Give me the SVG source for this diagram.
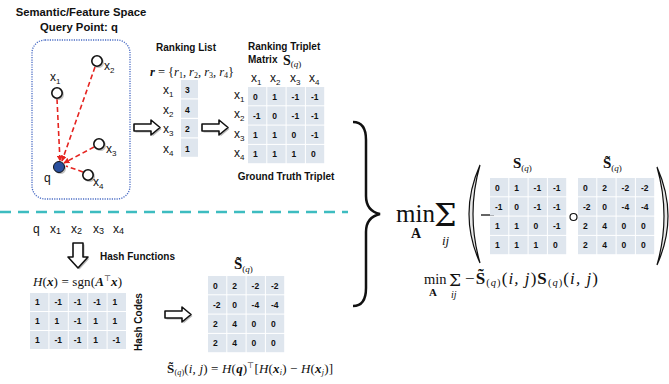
<svg xmlns="http://www.w3.org/2000/svg" width="669" height="384" viewBox="0 0 669 384">
<style>
.t{font-family:"Liberation Sans",Arial,sans-serif;font-weight:bold;fill:#111}
.lb{font-family:"Liberation Sans",Arial,sans-serif;font-size:12px;fill:#111}
.sb{font-size:8px}
.c{fill:#dfe6ee}
.v{font-family:"Liberation Sans",Arial,sans-serif;font-weight:bold;font-size:8.5px;fill:#111}
.m{font-family:"Liberation Serif","Times New Roman",serif;fill:#111}
.it{font-style:italic}
.bf{font-weight:bold}
.pt{fill:#fff;stroke:#111;stroke-width:1.6}
.sh{fill:#9a9a9a;opacity:.6}
.arr{fill:#fff;stroke:#111;stroke-width:1.6;stroke-linejoin:round}
.ash{fill:#888;opacity:.6}
.red{stroke:#e52420;stroke-width:1.6;stroke-dasharray:5 3;fill:none}
</style>
<defs>
<marker id="ah" viewBox="0 0 10 10" refX="9" refY="5" markerWidth="6" markerHeight="6" orient="auto" markerUnits="userSpaceOnUse">
<path d="M0,0 L10,5 L0,10 z" fill="#e52420"/>
</marker>
<polygon id="rarrow" points="0,-3.5 17,-3.5 17,-7.5 26,0 17,7.5 17,3.5 0,3.5"/>
<polygon id="darrow" points="-5,0 5,0 5,14 10,14 0,25 -10,14 -5,14"/>
</defs>

<g id="title">
<text class="t" x="81" y="16" text-anchor="middle" style="font-size:11.3px">Semantic/Feature Space</text>
<text class="t" x="79" y="31" text-anchor="middle" style="font-size:11.3px">Query Point: q</text>
</g>

<g id="space">
<rect x="32" y="40" width="98" height="159" rx="13" fill="none" stroke="#4a6cc4" stroke-width="1.3" stroke-dasharray="1.2 1.2"/>
</g>

<g id="connectors">
<line class="red" x1="57" y1="99" x2="60" y2="161" marker-end="url(#ah)"/>
<line class="red" x1="95" y1="67" x2="62" y2="161" marker-end="url(#ah)"/>
<line class="red" x1="94" y1="147" x2="64" y2="163" marker-end="url(#ah)"/>
<line class="red" x1="83" y1="172" x2="66" y2="166"/>
</g>

<g id="pt-x1"><circle class="sh" cx="58.5" cy="94.5" r="5.5"/><circle class="pt" cx="57" cy="93" r="5.2"/><text class="lb" x="50" y="81">x<tspan class="sb" dy="3">1</tspan></text></g>
<g id="pt-x2"><circle class="sh" cx="98.5" cy="62.5" r="5.5"/><circle class="pt" cx="97" cy="61" r="5.2"/><text class="lb" x="104" y="70">x<tspan class="sb" dy="3">2</tspan></text></g>
<g id="pt-x3"><circle class="sh" cx="100.5" cy="145.5" r="5.5"/><circle class="pt" cx="99" cy="144" r="5.2"/><text class="lb" x="106" y="153">x<tspan class="sb" dy="3">3</tspan></text></g>
<g id="pt-x4"><circle class="sh" cx="89.5" cy="176.5" r="5.5"/><circle class="pt" cx="88" cy="175" r="5.2"/><text class="lb" x="93" y="186">x<tspan class="sb" dy="3">4</tspan></text></g>
<g id="pt-q"><circle class="sh" cx="60.5" cy="168.5" r="5.5"/><circle cx="59" cy="167" r="5.5" fill="#2a4f9e" stroke="#111" stroke-width="1"/><text class="lb" x="44" y="182">q</text></g>

<g id="arrow1"><use href="#rarrow" class="ash" x="135.5" y="129"/><use href="#rarrow" class="arr" x="134" y="127.5"/></g>
<g id="arrow2"><use href="#rarrow" class="ash" x="203.5" y="129"/><use href="#rarrow" class="arr" x="202" y="127.5"/></g>
<g id="arrow3"><use href="#rarrow" class="ash" x="166.5" y="316"/><use href="#rarrow" class="arr" x="165" y="314.5"/></g>
<g id="arrow4"><use href="#darrow" class="ash" x="79.5" y="244.5"/><use href="#darrow" class="arr" x="78" y="243"/></g>

<g id="ranking-list">
<text class="t" x="186" y="51" text-anchor="middle" style="font-size:10px">Ranking List</text>
<text class="m" x="150" y="76" style="font-size:12.5px" textLength="84" lengthAdjust="spacing"><tspan class="it bf">r</tspan> = {<tspan class="it">r</tspan><tspan style="font-size:8px" dy="2">1</tspan><tspan dy="-2">, </tspan><tspan class="it">r</tspan><tspan style="font-size:8px" dy="2">2</tspan><tspan dy="-2">, </tspan><tspan class="it">r</tspan><tspan style="font-size:8px" dy="2">3</tspan><tspan dy="-2">, </tspan><tspan class="it">r</tspan><tspan style="font-size:8px" dy="2">4</tspan><tspan dy="-2">}</tspan></text>
<rect class="c" x="181" y="80" width="17" height="18.3"/>
<rect class="c" x="181" y="99.5" width="17" height="18.3"/>
<rect class="c" x="181" y="119" width="17" height="18.3"/>
<rect class="c" x="181" y="138.5" width="17" height="18.3"/>
<text class="v" x="185" y="93">3</text>
<text class="v" x="185" y="112.5">4</text>
<text class="v" x="185" y="132">2</text>
<text class="v" x="185" y="151.5">1</text>
<text class="lb" x="163" y="94">x<tspan class="sb" dy="3">1</tspan></text>
<text class="lb" x="163" y="113.5">x<tspan class="sb" dy="3">2</tspan></text>
<text class="lb" x="163" y="133">x<tspan class="sb" dy="3">3</tspan></text>
<text class="lb" x="163" y="152.5">x<tspan class="sb" dy="3">4</tspan></text>
</g>

<g id="triplet-matrix">
<text class="t" x="248" y="50" style="font-size:10px">Ranking Triplet</text>
<text class="t" x="248" y="63" style="font-size:10px">Matrix</text>
<text class="m" x="283" y="65" style="font-size:14px"><tspan class="bf">S</tspan><tspan style="font-size:9px" dy="2">(</tspan><tspan style="font-size:9px" class="it">q</tspan><tspan style="font-size:9px">)</tspan></text>
<text class="lb" x="251" y="82">x<tspan class="sb" dy="3">1</tspan></text>
<text class="lb" x="270" y="82">x<tspan class="sb" dy="3">2</tspan></text>
<text class="lb" x="290" y="82">x<tspan class="sb" dy="3">3</tspan></text>
<text class="lb" x="309" y="82">x<tspan class="sb" dy="3">4</tspan></text>
<text class="lb" x="234" y="99">x<tspan class="sb" dy="3">1</tspan></text>
<text class="lb" x="234" y="118.3">x<tspan class="sb" dy="3">2</tspan></text>
<text class="lb" x="234" y="137.6">x<tspan class="sb" dy="3">3</tspan></text>
<text class="lb" x="234" y="156.9">x<tspan class="sb" dy="3">4</tspan></text>
<g>
<rect class="c" x="248" y="87" width="18.3" height="18.3"/><rect class="c" x="267.3" y="87" width="18.3" height="18.3"/><rect class="c" x="286.6" y="87" width="18.3" height="18.3"/><rect class="c" x="305.9" y="87" width="18.3" height="18.3"/>
<rect class="c" x="248" y="106.3" width="18.3" height="18.3"/><rect class="c" x="267.3" y="106.3" width="18.3" height="18.3"/><rect class="c" x="286.6" y="106.3" width="18.3" height="18.3"/><rect class="c" x="305.9" y="106.3" width="18.3" height="18.3"/>
<rect class="c" x="248" y="125.6" width="18.3" height="18.3"/><rect class="c" x="267.3" y="125.6" width="18.3" height="18.3"/><rect class="c" x="286.6" y="125.6" width="18.3" height="18.3"/><rect class="c" x="305.9" y="125.6" width="18.3" height="18.3"/>
<rect class="c" x="248" y="144.9" width="18.3" height="18.3"/><rect class="c" x="267.3" y="144.9" width="18.3" height="18.3"/><rect class="c" x="286.6" y="144.9" width="18.3" height="18.3"/><rect class="c" x="305.9" y="144.9" width="18.3" height="18.3"/>
</g>
<text class="v" x="253" y="99.5">0</text><text class="v" x="272.3" y="99.5">1</text><text class="v" x="291.6" y="99.5">-1</text><text class="v" x="310.9" y="99.5">-1</text>
<text class="v" x="253" y="118.8">-1</text><text class="v" x="272.3" y="118.8">0</text><text class="v" x="291.6" y="118.8">-1</text><text class="v" x="310.9" y="118.8">-1</text>
<text class="v" x="253" y="138.1">1</text><text class="v" x="272.3" y="138.1">1</text><text class="v" x="291.6" y="138.1">0</text><text class="v" x="310.9" y="138.1">-1</text>
<text class="v" x="253" y="157.4">1</text><text class="v" x="272.3" y="157.4">1</text><text class="v" x="291.6" y="157.4">1</text><text class="v" x="310.9" y="157.4">0</text>
<text class="t" x="286" y="180" text-anchor="middle" style="font-size:10px">Ground Truth Triplet</text>
</g>

<g id="separator">
<line x1="0" y1="212" x2="348" y2="212" stroke="#3dbcc0" stroke-width="2.5" stroke-dasharray="11 7"/>
</g>

<g id="points-row">
<text class="lb" x="33" y="233">q</text>
<text class="lb" x="50" y="233">x<tspan style="font-size:9px" dy="1">1</tspan></text>
<text class="lb" x="71" y="233">x<tspan style="font-size:9px" dy="1">2</tspan></text>
<text class="lb" x="93" y="233">x<tspan style="font-size:9px" dy="1">3</tspan></text>
<text class="lb" x="113" y="233">x<tspan style="font-size:9px" dy="1">4</tspan></text>
</g>
<g id="hash-functions">
<text class="t" x="100" y="260" style="font-size:10px">Hash Functions</text>
<text class="m" x="33" y="286" style="font-size:13px" textLength="89" lengthAdjust="spacing"><tspan class="it">H</tspan>(<tspan class="it bf">x</tspan>) = sgn(<tspan class="it bf">A</tspan><tspan style="font-size:8px" dy="-5">⊤</tspan><tspan dy="5" class="it bf">x</tspan>)</text>
</g>
<g id="hash-codes">
<rect class="c" x="30" y="293" width="18.4" height="18"/><rect class="c" x="49.4" y="293" width="18.4" height="18"/><rect class="c" x="68.8" y="293" width="18.4" height="18"/><rect class="c" x="88.2" y="293" width="18.4" height="18"/><rect class="c" x="107.6" y="293" width="18.4" height="18"/>
<rect class="c" x="30" y="312" width="18.4" height="18"/><rect class="c" x="49.4" y="312" width="18.4" height="18"/><rect class="c" x="68.8" y="312" width="18.4" height="18"/><rect class="c" x="88.2" y="312" width="18.4" height="18"/><rect class="c" x="107.6" y="312" width="18.4" height="18"/>
<rect class="c" x="30" y="331" width="18.4" height="18"/><rect class="c" x="49.4" y="331" width="18.4" height="18"/><rect class="c" x="68.8" y="331" width="18.4" height="18"/><rect class="c" x="88.2" y="331" width="18.4" height="18"/><rect class="c" x="107.6" y="331" width="18.4" height="18"/>
<text class="v" x="35" y="305">1</text><text class="v" x="54.4" y="305">-1</text><text class="v" x="73.8" y="305">-1</text><text class="v" x="93.2" y="305">-1</text><text class="v" x="112.6" y="305">1</text>
<text class="v" x="35" y="324">1</text><text class="v" x="54.4" y="324">1</text><text class="v" x="73.8" y="324">-1</text><text class="v" x="93.2" y="324">1</text><text class="v" x="112.6" y="324">1</text>
<text class="v" x="35" y="343">1</text><text class="v" x="54.4" y="343">-1</text><text class="v" x="73.8" y="343">-1</text><text class="v" x="93.2" y="343">1</text><text class="v" x="112.6" y="343">-1</text>
<text class="t" transform="translate(142,322) rotate(-90)" text-anchor="middle" style="font-size:10px">Hash Codes</text>
</g>

<g id="stilde-matrix">
<text class="m" x="234" y="269" style="font-size:15px"><tspan class="bf">S̃</tspan><tspan style="font-size:9px" dy="3">(<tspan class="it">q</tspan>)</tspan></text>
<rect class="c" x="208" y="276" width="18.3" height="18.3"/><rect class="c" x="227.3" y="276" width="18.3" height="18.3"/><rect class="c" x="246.6" y="276" width="18.3" height="18.3"/><rect class="c" x="265.9" y="276" width="18.3" height="18.3"/>
<rect class="c" x="208" y="295.3" width="18.3" height="18.3"/><rect class="c" x="227.3" y="295.3" width="18.3" height="18.3"/><rect class="c" x="246.6" y="295.3" width="18.3" height="18.3"/><rect class="c" x="265.9" y="295.3" width="18.3" height="18.3"/>
<rect class="c" x="208" y="314.6" width="18.3" height="18.3"/><rect class="c" x="227.3" y="314.6" width="18.3" height="18.3"/><rect class="c" x="246.6" y="314.6" width="18.3" height="18.3"/><rect class="c" x="265.9" y="314.6" width="18.3" height="18.3"/>
<rect class="c" x="208" y="333.9" width="18.3" height="18.3"/><rect class="c" x="227.3" y="333.9" width="18.3" height="18.3"/><rect class="c" x="246.6" y="333.9" width="18.3" height="18.3"/><rect class="c" x="265.9" y="333.9" width="18.3" height="18.3"/>
<text class="v" x="213" y="288.5">0</text><text class="v" x="232.3" y="288.5">2</text><text class="v" x="251.6" y="288.5">-2</text><text class="v" x="270.9" y="288.5">-2</text>
<text class="v" x="213" y="307.8">-2</text><text class="v" x="232.3" y="307.8">0</text><text class="v" x="251.6" y="307.8">-4</text><text class="v" x="270.9" y="307.8">-4</text>
<text class="v" x="213" y="327.1">2</text><text class="v" x="232.3" y="327.1">4</text><text class="v" x="251.6" y="327.1">0</text><text class="v" x="270.9" y="327.1">0</text>
<text class="v" x="213" y="346.4">2</text><text class="v" x="232.3" y="346.4">4</text><text class="v" x="251.6" y="346.4">0</text><text class="v" x="270.9" y="346.4">0</text>
</g>
<g id="stilde-formula">
<text class="m" x="167" y="373" style="font-size:13px" textLength="166" lengthAdjust="spacing"><tspan class="bf">S̃</tspan><tspan style="font-size:8px" dy="2">(<tspan class="it">q</tspan>)</tspan><tspan dy="-2">(</tspan><tspan class="it">i, j</tspan>) = <tspan class="it">H</tspan>(<tspan class="it bf">q</tspan>)<tspan style="font-size:8px" dy="-5">⊤</tspan><tspan dy="5">[</tspan><tspan class="it">H</tspan>(<tspan class="it bf">x</tspan><tspan style="font-size:8px" dy="2" class="it">i</tspan><tspan dy="-2">) − </tspan><tspan class="it">H</tspan>(<tspan class="it bf">x</tspan><tspan style="font-size:8px" dy="2" class="it">j</tspan><tspan dy="-2">)]</tspan></text>
</g>

<g id="brace">
<path d="M353,122 C362,122 366,128 366,140 L366,196 C366,206 371,212 380,214 C371,216 366,222 366,232 L366,288 C366,300 362,306 353,306" fill="none" stroke="#111" stroke-width="2.5"/>
</g>

<g id="objective">
<text class="m" x="396" y="222" style="font-size:25px">min</text>
<text class="m bf" x="411" y="238" style="font-size:14px">A</text>
<text x="434" y="226" style="font-family:'DejaVu Serif',serif;font-size:32px" fill="#111">Σ</text>
<text class="m it" x="442" y="245" style="font-size:13px">ij</text>
<path d="M480,165 Q458,214 480,263 Q466,214 480,165 Z" fill="#e8e8e8" stroke="#111" stroke-width="1.2"/>
<line x1="481" y1="215" x2="494" y2="215" stroke="#111" stroke-width="1.3"/>
<path d="M657,167 Q679,216 657,265 Q671,216 657,167 Z" fill="#e8e8e8" stroke="#111" stroke-width="1.2"/>
<circle cx="573.5" cy="217" r="3.5" fill="#fff" stroke="#111" stroke-width="1.2"/>
</g>

<g id="s-matrix">
<text class="m" x="513" y="168" style="font-size:15px"><tspan class="bf">S</tspan><tspan style="font-size:9px" dy="3">(<tspan class="it">q</tspan>)</tspan></text>
<rect class="c" x="490" y="178" width="18.3" height="18.3"/><rect class="c" x="509.3" y="178" width="18.3" height="18.3"/><rect class="c" x="528.6" y="178" width="18.3" height="18.3"/><rect class="c" x="547.9" y="178" width="18.3" height="18.3"/>
<rect class="c" x="490" y="197.3" width="18.3" height="18.3"/><rect class="c" x="509.3" y="197.3" width="18.3" height="18.3"/><rect class="c" x="528.6" y="197.3" width="18.3" height="18.3"/><rect class="c" x="547.9" y="197.3" width="18.3" height="18.3"/>
<rect class="c" x="490" y="216.6" width="18.3" height="18.3"/><rect class="c" x="509.3" y="216.6" width="18.3" height="18.3"/><rect class="c" x="528.6" y="216.6" width="18.3" height="18.3"/><rect class="c" x="547.9" y="216.6" width="18.3" height="18.3"/>
<rect class="c" x="490" y="235.9" width="18.3" height="18.3"/><rect class="c" x="509.3" y="235.9" width="18.3" height="18.3"/><rect class="c" x="528.6" y="235.9" width="18.3" height="18.3"/><rect class="c" x="547.9" y="235.9" width="18.3" height="18.3"/>
<text class="v" x="495" y="190.5">0</text><text class="v" x="514.3" y="190.5">1</text><text class="v" x="533.6" y="190.5">-1</text><text class="v" x="552.9" y="190.5">-1</text>
<text class="v" x="495" y="209.8">-1</text><text class="v" x="514.3" y="209.8">0</text><text class="v" x="533.6" y="209.8">-1</text><text class="v" x="552.9" y="209.8">-1</text>
<text class="v" x="495" y="229.1">1</text><text class="v" x="514.3" y="229.1">1</text><text class="v" x="533.6" y="229.1">0</text><text class="v" x="552.9" y="229.1">-1</text>
<text class="v" x="495" y="248.4">1</text><text class="v" x="514.3" y="248.4">1</text><text class="v" x="533.6" y="248.4">1</text><text class="v" x="552.9" y="248.4">0</text>
</g>

<g id="stilde-matrix-right">
<text class="m" x="603" y="168" style="font-size:15px"><tspan class="bf">S̃</tspan><tspan style="font-size:9px" dy="3">(<tspan class="it">q</tspan>)</tspan></text>
<rect class="c" x="578" y="178" width="18.3" height="18.3"/><rect class="c" x="597.3" y="178" width="18.3" height="18.3"/><rect class="c" x="616.6" y="178" width="18.3" height="18.3"/><rect class="c" x="635.9" y="178" width="18.3" height="18.3"/>
<rect class="c" x="578" y="197.3" width="18.3" height="18.3"/><rect class="c" x="597.3" y="197.3" width="18.3" height="18.3"/><rect class="c" x="616.6" y="197.3" width="18.3" height="18.3"/><rect class="c" x="635.9" y="197.3" width="18.3" height="18.3"/>
<rect class="c" x="578" y="216.6" width="18.3" height="18.3"/><rect class="c" x="597.3" y="216.6" width="18.3" height="18.3"/><rect class="c" x="616.6" y="216.6" width="18.3" height="18.3"/><rect class="c" x="635.9" y="216.6" width="18.3" height="18.3"/>
<rect class="c" x="578" y="235.9" width="18.3" height="18.3"/><rect class="c" x="597.3" y="235.9" width="18.3" height="18.3"/><rect class="c" x="616.6" y="235.9" width="18.3" height="18.3"/><rect class="c" x="635.9" y="235.9" width="18.3" height="18.3"/>
<text class="v" x="583" y="190.5">0</text><text class="v" x="602.3" y="190.5">2</text><text class="v" x="621.6" y="190.5">-2</text><text class="v" x="640.9" y="190.5">-2</text>
<text class="v" x="583" y="209.8">-2</text><text class="v" x="602.3" y="209.8">0</text><text class="v" x="621.6" y="209.8">-4</text><text class="v" x="640.9" y="209.8">-4</text>
<text class="v" x="583" y="229.1">2</text><text class="v" x="602.3" y="229.1">4</text><text class="v" x="621.6" y="229.1">0</text><text class="v" x="640.9" y="229.1">0</text>
<text class="v" x="583" y="248.4">2</text><text class="v" x="602.3" y="248.4">4</text><text class="v" x="621.6" y="248.4">0</text><text class="v" x="640.9" y="248.4">0</text>
</g>

<g id="objective-scalar">
<text class="m" x="424" y="284" style="font-size:14.5px">min</text>
<text class="m bf" x="429" y="296" style="font-size:11px">A</text>
<text x="449" y="286" style="font-family:'DejaVu Serif',serif;font-size:17px" fill="#111">Σ</text>
<text class="m it" x="451" y="298" style="font-size:10px">ij</text>
<text class="m" x="465" y="284" style="font-size:17px" textLength="133" lengthAdjust="spacing">−<tspan class="bf">S̃</tspan><tspan style="font-size:10.5px" dy="2">(<tspan class="it">q</tspan>)</tspan><tspan dy="-2">(</tspan><tspan class="it">i, j</tspan>)<tspan class="bf">S</tspan><tspan style="font-size:10.5px" dy="2">(<tspan class="it">q</tspan>)</tspan><tspan dy="-2">(</tspan><tspan class="it">i, j</tspan>)</text>
</g>
</svg>
